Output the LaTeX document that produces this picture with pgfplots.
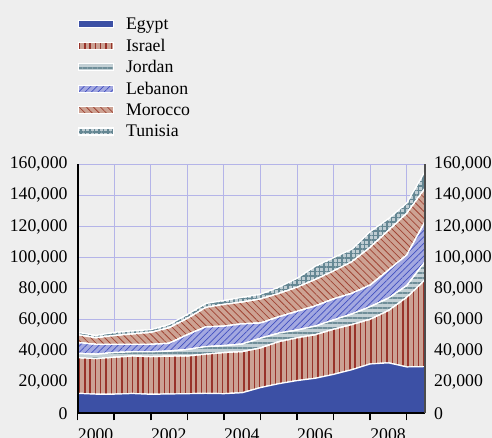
\documentclass[border=0pt]{standalone}
\usepackage{pgfplots}
\pgfplotsset{compat=1.18}
\usepackage{pgfplotstable}
\usepackage{fontspec}
\setmainfont{Liberation Serif}
\usetikzlibrary{patterns.meta}

\definecolor{bg}{HTML}{EEEEEE}
\definecolor{gridc}{HTML}{B4B4E8}
\definecolor{egypt}{HTML}{3C50A5}
\definecolor{isrfill}{HTML}{CBA294}
\definecolor{isrline}{HTML}{98332A}
\definecolor{jorfill}{HTML}{C3D0D5}
\definecolor{jorline}{HTML}{6F8E99}
\definecolor{lebfill}{HTML}{A3A8E0}
\definecolor{lebline}{HTML}{4150C0}
\definecolor{morfill}{HTML}{CDA293}
\definecolor{morline}{HTML}{A04535}
\definecolor{tunfill}{HTML}{BFCDD3}
\definecolor{tunline}{HTML}{658793}

\pgfplotstableread{
year   egypt israel jordan lebanon morocco tunisia
2000.0 12800 22900 2800 7000  5000  1500
2000.5 12300 22900 2800 6300  4200  1500
2001.0 12300 23700 3000 5300  5700  2000
2001.5 12700 24100 2700 4800  6700  2000
2002.0 12200 24200 3100 4800  7700  1700
2002.5 12400 24300 3300 5000  10000 2000
2003.0 12600 24200 4200 9500  10500 2500
2003.5 12800 25200 4800 12700 12500 2500
2004.0 12600 26400 4500 12500 14000 2500
2004.5 13200 26400 4900 13000 14000 3000
2005.0 16500 25500 6200 9800  15500 3000
2005.5 19000 27000 5500 10500 15000 4000
2006.0 21000 27500 5000 12000 15500 5700
2006.5 22500 28000 5500 13000 17000 8500
2007.0 25000 29000 6000 13500 18000 8500
2007.5 28000 29000 6800 13300 20300 8000
2008.0 31700 28700 8100 13900 24300 10000
2008.5 32400 33600 8000 18000 25500 7500
2009.0 29800 44700 7500 19700 26800 6500
2009.5 30000 55700 11700 25700 21500 10700
}\data

\newcommand\ls{\rule[-4bp]{0pt}{16bp}}

\begin{document}
\begin{tikzpicture}
\fill[bg] (-77.7bp,-24.7bp) rectangle ++(492bp,438bp);
\pgfplotsset{common/.style={at={(0,0)}, anchor=south west, scale only axis,
  width=347.3bp, height=249bp, xmin=2000, xmax=2009.5, ymin=0, ymax=160000,
  xtick={2000,...,2009}, ytick={0,20000,...,160000}, scaled y ticks=false,
  font=\fontsize{17.8}{20}\selectfont,
  /pgf/number format/assume math mode=true,
  /pgf/number format/fixed,
  /pgf/number format/1000 sep={,}}}
\begin{axis}[common, stack plots=y, axis line style={draw=none}, major tick length=0pt,
  xticklabels={}, yticklabels={}, grid=major, grid style={gridc, line width=1bp},
  axis background/.style={fill=bg},
  legend cell align=left,
  legend image code/.code={\draw[#1] (0bp,-3.5bp) rectangle (35bp,3.5bp);},
  legend style={draw=none, fill=none, at={(0,1)}, anchor=north west, yshift=149bp,
    inner sep=0pt, row sep=3.8bp, column sep=10bp,
    font=\fontsize{17.8}{20}\selectfont}]
\addplot[fill=egypt, draw=white, line width=1.2bp] table[x=year,y=egypt]{\data} \closedcycle;
\addlegendentry{\ls Egypt}
\addplot[preaction={fill=isrfill}, pattern={Lines[angle=90,distance=5.3bp,line width=1.4bp]}, pattern color=isrline, draw=white, line width=1.2bp] table[x=year,y=israel]{\data} \closedcycle;
\addlegendentry{\ls Israel}
\addplot[preaction={fill=jorfill}, pattern={Lines[angle=0,distance=5bp,line width=1.3bp]}, pattern color=jorline, draw=white, line width=1.2bp] table[x=year,y=jordan]{\data} \closedcycle;
\addlegendentry{\ls Jordan}
\addplot[preaction={fill=lebfill}, pattern={Lines[angle=45,distance=4.5bp,line width=0.7bp]}, pattern color=lebline, draw=white, line width=1.2bp] table[x=year,y=lebanon]{\data} \closedcycle;
\addlegendentry{\ls Lebanon}
\addplot[preaction={fill=morfill}, pattern={Lines[angle=-45,distance=5bp,line width=0.8bp]}, pattern color=morline, draw=white, line width=1.2bp] table[x=year,y=morocco]{\data} \closedcycle;
\addlegendentry{\ls Morocco}
\addplot[preaction={fill=tunfill}, pattern={Hatch[angle=0,distance=4.5bp,line width=1.2bp]}, pattern color=tunline, draw=white, line width=1.2bp] table[x=year,y=tunisia]{\data} \closedcycle;
\addlegendentry{\ls Tunisia}
\end{axis}
\begin{axis}[common, axis x line*=bottom, axis y line*=left,
  axis line style={-, black, line width=1.8bp},
  tick align=outside, major tick length=7bp, xtick style={black, line width=1.5bp},
  ytick style={draw=none},
  xticklabels={2000,,2002,,2004,,2006,,2008,},
  xticklabel style={anchor=north west, inner sep=0pt, yshift=-8.5bp},
  yticklabel style={inner sep=0pt, xshift=-3bp}]
\end{axis}
\begin{axis}[common, axis y line*=right, hide x axis,
  axis line style={-, black!70, line width=2bp},
  ytick style={draw=none},
  yticklabel style={inner sep=0pt, xshift=9bp}]
\end{axis}
\pgfresetboundingbox
\path[use as bounding box] (-77.7bp,-24.7bp) rectangle ++(492bp,438bp);
\end{tikzpicture}
\end{document}
